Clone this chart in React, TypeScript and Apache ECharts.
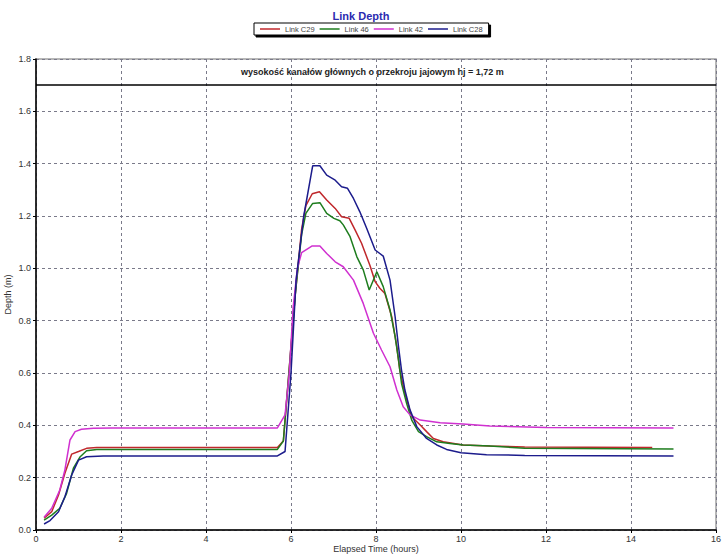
import React, { useEffect, useRef } from "react";
import * as echarts from "echarts";

const seriesNames = ["Link C29", "Link 46", "Link 42", "Link C28"];
const seriesColors = ["#c0282c", "#1e7d1e", "#d030d0", "#1c1c8c"];

const linkC29: [number, number][] = [
  [0.19, 0.045], [0.37, 0.07], [0.53, 0.134], [0.68, 0.217], [0.84, 0.29], [1.0, 0.3], [1.19, 0.312], [1.43, 0.315],
  [5.68, 0.315], [5.82, 0.34], [5.95, 0.6], [6.1, 0.9], [6.25, 1.15], [6.35, 1.24], [6.5, 1.285], [6.67, 1.293],
  [6.84, 1.261], [7.04, 1.229], [7.19, 1.197], [7.37, 1.191], [7.51, 1.146], [7.66, 1.096], [7.86, 1.01],
  [7.98, 0.949], [8.09, 0.924], [8.21, 0.904], [8.37, 0.815], [8.49, 0.7], [8.56, 0.611], [8.68, 0.522],
  [8.84, 0.433], [9.04, 0.401], [9.19, 0.376], [9.35, 0.35], [9.58, 0.337], [10.05, 0.325], [10.68, 0.321],
  [11.5, 0.317], [14.5, 0.315],
];

const link46: [number, number][] = [
  [0.19, 0.038], [0.37, 0.057], [0.56, 0.083], [0.72, 0.14], [0.88, 0.236], [1.04, 0.28], [1.19, 0.303], [1.43, 0.308],
  [5.68, 0.308], [5.82, 0.34], [5.95, 0.6], [6.1, 0.9], [6.25, 1.13], [6.35, 1.21], [6.51, 1.248], [6.68, 1.251],
  [6.84, 1.21], [7.01, 1.191], [7.15, 1.182], [7.23, 1.166], [7.39, 1.121], [7.55, 1.044], [7.7, 0.994],
  [7.84, 0.917], [8.02, 0.987], [8.17, 0.93], [8.33, 0.841], [8.45, 0.739], [8.53, 0.65], [8.6, 0.561],
  [8.72, 0.484], [8.84, 0.42], [9.0, 0.376], [9.19, 0.357], [9.43, 0.337], [9.74, 0.331], [10.05, 0.325],
  [10.68, 0.321], [11.5, 0.312], [15.0, 0.31],
];

const link42: [number, number][] = [
  [0.19, 0.049], [0.37, 0.083], [0.56, 0.153], [0.68, 0.23], [0.8, 0.344], [0.92, 0.376], [1.07, 0.385], [1.35, 0.389],
  [1.8, 0.39], [5.68, 0.39], [5.86, 0.44], [5.96, 0.6], [6.05, 0.85], [6.15, 1.0], [6.25, 1.06], [6.49, 1.085],
  [6.68, 1.085], [6.84, 1.057], [7.04, 1.025], [7.23, 1.006], [7.47, 0.955], [7.7, 0.866], [7.94, 0.752],
  [8.13, 0.688], [8.33, 0.624], [8.49, 0.535], [8.64, 0.471], [8.8, 0.44], [9.04, 0.42], [9.51, 0.41],
  [10.05, 0.405], [10.68, 0.397], [12.0, 0.392], [15.0, 0.39],
];

const linkC28: [number, number][] = [
  [0.19, 0.023], [0.33, 0.036], [0.53, 0.07], [0.68, 0.127], [0.84, 0.21], [1.0, 0.267], [1.19, 0.28], [1.58, 0.283],
  [5.68, 0.283], [5.86, 0.3], [6.0, 0.6], [6.12, 0.955], [6.3, 1.2], [6.51, 1.392], [6.68, 1.392], [6.84, 1.356],
  [7.04, 1.337], [7.19, 1.312], [7.33, 1.306], [7.47, 1.267], [7.62, 1.216], [7.78, 1.153], [7.98, 1.07],
  [8.17, 1.047], [8.33, 0.955], [8.45, 0.815], [8.53, 0.7], [8.6, 0.611], [8.68, 0.535], [8.8, 0.459],
  [8.96, 0.395], [9.19, 0.35], [9.43, 0.325], [9.66, 0.308], [10.0, 0.295], [10.6, 0.288], [11.5, 0.285],
  [15.0, 0.283],
];

const seriesData = [linkC29, link46, link42, linkC28];
const limitValue = 1.7;
const limitLabel = "wysokość kanałów głównych o przekroju jajowym hj = 1,72 m";

export default function App() {
  const ref = useRef<HTMLDivElement>(null);
  useEffect(() => {
    if (!ref.current) return;
    const chart = echarts.init(ref.current, null, { renderer: "svg" });
    const font = "Arial, 'Liberation Sans', sans-serif";
    chart.setOption({
      animation: false,
      backgroundColor: "#ffffff",
      title: {
        text: "Link Depth",
        left: "center",
        top: 5,
        textStyle: { fontSize: 11, fontWeight: "bold", color: "#2b2bb0", fontFamily: font },
      },
      legend: {
        top: 23,
        left: 254,
        data: seriesNames,
        icon: "rect",
        itemWidth: 20,
        itemHeight: 1.5,
        itemGap: 5,
        padding: [2, 6, 2, 6],
        backgroundColor: "#ffffff",
        borderColor: "#000",
        borderWidth: 1,
        shadowColor: "#000",
        shadowOffsetX: 2,
        shadowOffsetY: 2,
        shadowBlur: 0,
        textStyle: { fontSize: 7.5, color: "#444", fontFamily: font },
      },
      grid: {
        left: 36,
        right: 6,
        top: 59,
        bottom: 28,
        containLabel: false,
        outerBoundsMode: "none",
        show: true,
        borderColor: "#a0a0a0",
        borderWidth: 1.5,
      },
      xAxis: {
        type: "value",
        min: 0,
        max: 16,
        interval: 2,
        name: "Elapsed Time (hours)",
        nameLocation: "middle",
        nameGap: 14,
        nameMoveOverlap: false,
        nameTextStyle: { fontSize: 9, color: "#333", fontFamily: font },
        axisLine: { show: true, lineStyle: { color: "#000", width: 1.5 } },
        axisTick: { show: true, length: 3, lineStyle: { color: "#000" } },
        axisLabel: { fontSize: 9, color: "#333", margin: 4, fontFamily: font },
        splitLine: { show: true, lineStyle: { color: "#7a7a8a", type: [3, 3], width: 1 } },
      },
      yAxis: {
        type: "value",
        min: 0,
        max: 1.8,
        interval: 0.2,
        name: "Depth (m)",
        nameLocation: "middle",
        nameGap: 24,
        nameMoveOverlap: false,
        nameTextStyle: { fontSize: 9, color: "#333", fontFamily: font },
        axisLine: { show: true, lineStyle: { color: "#000", width: 1.5 } },
        axisTick: { show: true, length: 3, lineStyle: { color: "#000" } },
        axisLabel: {
          fontSize: 9,
          color: "#333",
          margin: 5,
          fontFamily: font,
          formatter: (v: number) => v.toFixed(1),
        },
        splitLine: { show: true, lineStyle: { color: "#7a7a8a", type: [3, 3], width: 1 } },
      },
      series: [
        ...seriesNames.map((name, i) => ({
          name,
          type: "line",
          data: seriesData[i],
          symbol: "none",
          lineStyle: { color: seriesColors[i], width: 1.5 },
          itemStyle: { color: seriesColors[i] },
          z: 3,
        })),
        {
          name: "limit",
          type: "line",
          data: [],
          symbol: "none",
          markLine: {
            silent: true,
            symbol: "none",
            label: { show: false },
            lineStyle: { color: "#000", type: "solid", width: 1.5 },
            data: [{ yAxis: limitValue }],
          },
        },
      ],
      graphic: [
        {
          type: "text",
          left: 241,
          top: 67,
          style: {
            text: limitLabel,
            fontSize: 9,
            fontWeight: "bold",
            fill: "#222",
            fontFamily: font,
          },
        },
      ],
    });
    return () => chart.dispose();
  }, []);
  return (
    <div
      ref={ref}
      style={{ position: "fixed", left: 0, top: 0, width: 722, height: 558, background: "#fff" }}
    />
  );
}
